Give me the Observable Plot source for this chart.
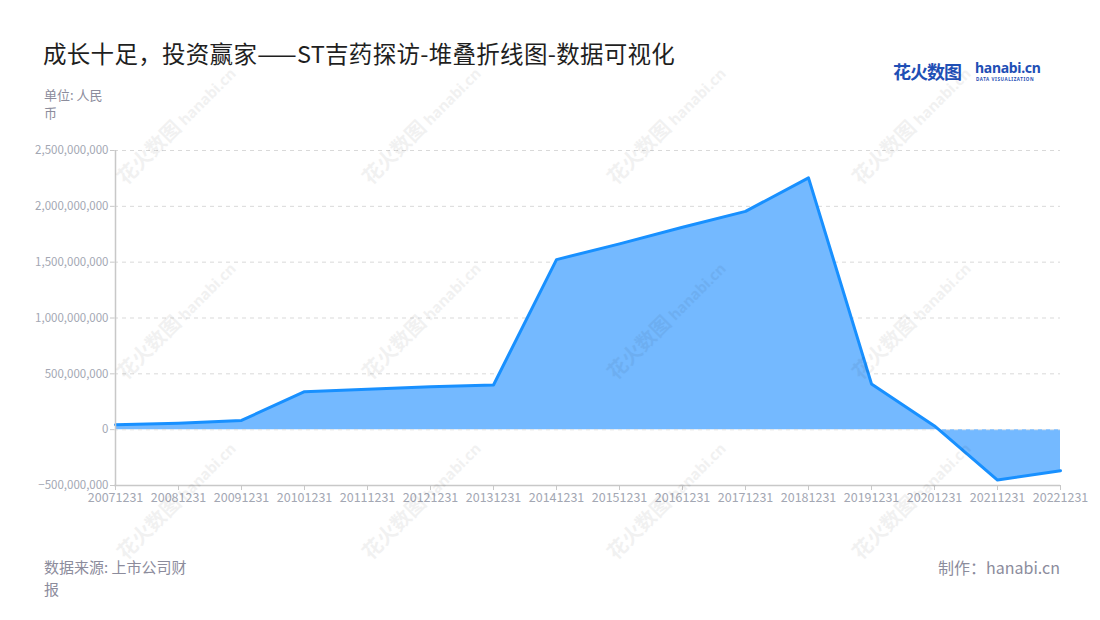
<!DOCTYPE html>
<html>
<head>
<meta charset="utf-8">
<script src="https://cdn.jsdelivr.net/npm/d3@7"></script>
<script src="https://cdn.jsdelivr.net/npm/@observablehq/plot@0.6"></script>
<style>
  html, body { margin: 0; padding: 0; background: #fff; }
  body { width: 1100px; height: 620px; position: relative; overflow: hidden;
         font-family: "Noto Sans CJK SC", "Noto Sans", sans-serif; }
  .abs { position: absolute; white-space: nowrap; }
  #title { left: 43px; top: 36px; font-size: 23.5px; color: #1f1f1f; letter-spacing: 0.3px; }
  #unit { left: 44px; top: 86px; font-size: 13px; color: #8c8c9c; line-height: 18px; white-space: normal; width: 70px; }
  #source { left: 44px; top: 556px; font-size: 15px; color: #8c8c9c; line-height: 22px; white-space: normal; width: 156px; }
  #maker { right: 40px; top: 555px; font-size: 16px; color: #8c8c9c; }
  #logo { left: 893px; top: 58px; }
  #logo .cn { font-size: 18px; font-weight: 700; color: #1f4fb5; letter-spacing: -1px; }
  #logo .en { position: absolute; left: 82px; top: 0px; font-size: 14px; font-weight: 700; color: #1f4fb5; font-family: "Noto Sans", sans-serif; letter-spacing: -0.3px; }
  #logo .sub { position: absolute; left: 83px; top: 18px; font-size: 4.5px; font-weight: 700; color: #1f4fb5; letter-spacing: 0.6px; font-family: "Noto Sans", sans-serif; }
  #chart { position: absolute; left: 0; top: 130px; }
  .wm { position: absolute; color: #000; opacity: 0.05; font-size: 20px; font-weight: 700; transform: rotate(-45deg); transform-origin: left bottom; white-space: nowrap; pointer-events: none; }
  .wm small { font-size: 15px; margin-left: 4px; font-family: "Noto Sans", sans-serif; }
</style>
</head>
<body>
<div id="title" class="abs">成长十足，投资赢家——ST吉药探访-堆叠折线图-数据可视化</div>
<div id="logo" class="abs"><span class="cn">花火数图</span><span class="en">hanabi.cn</span><span class="sub">DATA VISUALIZATION</span></div>
<div id="unit" class="abs">单位: 人民币</div>
<div id="chart"></div>
<div id="source" class="abs">数据来源: 上市公司财报</div>
<div id="maker" class="abs">制作：hanabi.cn</div>
<div id="wms"></div>
<script>
// ---- data ----
const dates = ["20071231","20081231","20091231","20101231","20111231","20121231","20131231","20141231",
               "20151231","20161231","20171231","20181231","20191231","20201231","20211231","20221231"];
const values = [45e6, 58e6, 83e6, 340e6, 362e6, 385e6, 400e6, 1523e6,
                1664e6, 1813e6, 1955e6, 2255e6, 410e6, 33e6, -451e6, -367e6];
const yTicks = [-500e6, 0, 500e6, 1000e6, 1500e6, 2000e6, 2500e6];

const data = dates.map((d, i) => ({date: d, value: values[i]}));
const fmt = d3.format(",");

const chart = Plot.plot({
  width: 1100,
  height: 390,
  marginLeft: 114,
  marginRight: 40,
  marginTop: 20,
  marginBottom: 35,
  style: {fontFamily: "'Noto Sans CJK SC', 'Noto Sans', sans-serif", fontSize: "11px", background: "transparent"},
  x: {type: "point", domain: dates, padding: 0, label: null},
  y: {domain: [-500e6, 2500e6], label: null},
  marks: [
    Plot.gridY(yTicks, {stroke: "#d9d9d9", strokeOpacity: 1, strokeDasharray: "4,4"}),
    Plot.areaY(data, {x: "date", y1: 0, y2: "value", fill: "#74b9ff", fillOpacity: 1}),
    Plot.ruleY([0], {stroke: "#e6e6e6", strokeDasharray: "4,4"}),
    Plot.lineY(data, {x: "date", y: "value", stroke: "#1890ff", strokeWidth: 3, strokeLinejoin: "round"}),
    Plot.axisY(yTicks, {tickFormat: fmt, tickSize: 4, tickPadding: 2, stroke: "#c8c8c8", fill: "#a3a7b3", fontSize: 11.5}),
    Plot.ruleX([dates[0]], {y1: -500e6, y2: 2500e6, stroke: "#c8c8c8", strokeWidth: 1.5}),
    Plot.axisX(dates, {tickSize: 5, tickPadding: 3, stroke: "#c8c8c8", fill: "#a3a7b3", fontSize: 12.5}),
    Plot.ruleY([-500e6], {stroke: "#c8c8c8", strokeWidth: 1.5})
  ]
});
document.getElementById("chart").appendChild(chart);

// faint watermarks
const wm = document.getElementById("wms");
const wmX = [130, 375, 620, 865];
const wmY = [185, 380, 560];
for (const x of wmX) for (const y of wmY) {
  const el = document.createElement("div");
  el.className = "wm";
  el.style.left = x + "px";
  el.style.top = (y - 24) + "px";
  el.innerHTML = "花火数图<small>hanabi.cn</small>";
  wm.appendChild(el);
}
</script>
</body>
</html>
